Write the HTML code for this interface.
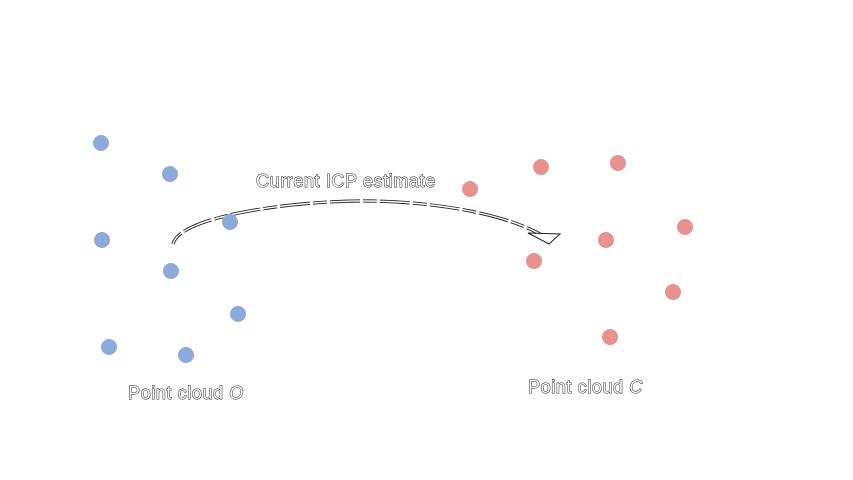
<!DOCTYPE html>
<html><head><meta charset="utf-8"><style>
html,body{margin:0;padding:0;background:#fff;width:853px;height:480px;overflow:hidden}
text{font-family:"Liberation Sans",sans-serif;font-size:18px;letter-spacing:0.6px;fill:#fff;stroke:#222;stroke-width:1px;paint-order:stroke}
</style></head><body>
<svg width="853" height="480">
<g id="arrow">
<path d="M173,244 C180,215 300,200 370,201 C440,202 510,215 545,237" fill="none" stroke="#222" stroke-width="3.2" stroke-dasharray="14,3,30,3"/>
<path d="M173,244 C180,215 300,200 370,201 C440,202 510,215 545,237" fill="none" stroke="#fff" stroke-width="1.4"/>
<path d="M528,233 L560,234 L549,244 Z" fill="#fff" stroke="#222" stroke-width="1"/>
</g>
<g id="blue"></g>
<g id="red"></g>
<text x="256" y="187">Current ICP estimate</text>
<text x="128" y="399">Point cloud <tspan font-style="italic">O</tspan></text>
<text x="528" y="393">Point cloud <tspan font-style="italic">C</tspan></text>
</svg>
<script>
const blueX=[101,170,230,102,171,238,109,186];
const blueY=[143,174,222,240,271,314,347,355];
const redX=[470,541,618,685,606,534,673,610];
const redY=[189,167,163,227,240,261,292,337];
function draw(gid,xs,ys,color,name){
  const g=document.getElementById(gid);
  xs.forEach((x,i)=>{
    const c=document.createElementNS('http://www.w3.org/2000/svg','circle');
    c.setAttribute('cx',x);c.setAttribute('cy',ys[i]);c.setAttribute('r',8);c.setAttribute('fill',color);
    
    
    g.appendChild(c);
  });
}
draw('blue',blueX,blueY,'#8eaadc','point-o');
draw('red',redX,redY,'#e79191','point-c');
</script>
</body></html>
